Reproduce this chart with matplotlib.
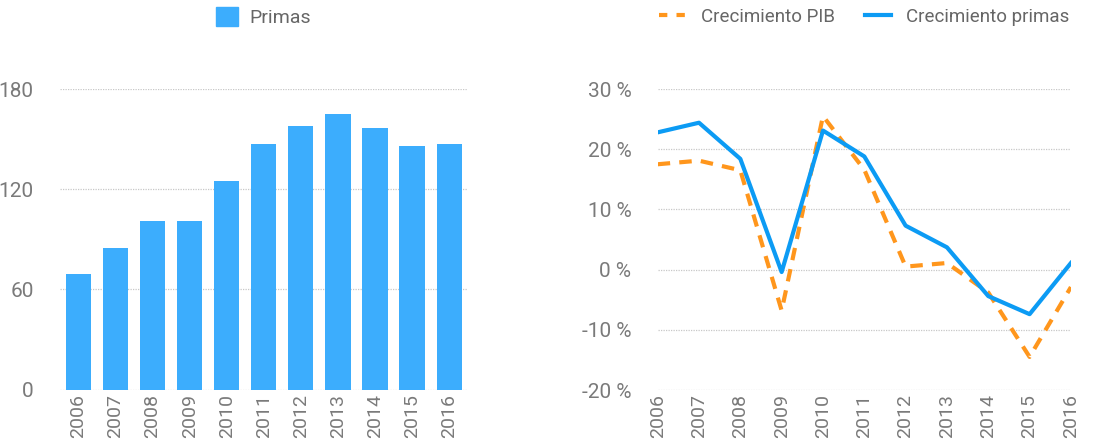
import matplotlib
matplotlib.use('Agg')
import matplotlib.pyplot as plt
from matplotlib.lines import Line2D
from matplotlib.patches import Patch

plt.rcParams['font.family'] = ['Roboto', 'DejaVu Sans']

years = ['2006', '2007', '2008', '2009', '2010', '2011', '2012', '2013', '2014', '2015', '2016']
primas = [69, 85, 101, 101, 125, 147, 158, 165, 156.5, 146, 147]
crec_pib = [17.5, 18.1, 16.5, -6.8, 25.5, 16.6, 0.5, 1.1, -3.8, -14.5, -2.9]
crec_primas = [22.8, 24.4, 18.4, -0.4, 23.1, 18.8, 7.3, 3.7, -4.4, -7.4, 1.1]

bar_color = '#3CADFD'
line_blue = '#0C9BF4'
line_orange = '#FF961C'
text_gray = '#7a7a7a'
grid_gray = '#c8c8c8'

fig = plt.figure(figsize=(11.02, 4.4), dpi=100)
ax1 = fig.add_axes([0.0544, 0.1143, 0.370, 0.6834])
ax2 = fig.add_axes([0.5968, 0.1136, 0.375, 0.6841])

x = range(len(years))

# left: bars
ax1.bar(x, primas, width=0.68, color=bar_color, zorder=2)
ax1.set_xlim(-0.5, len(years) - 0.5)
ax1.set_ylim(0, 180)
ax1.set_yticks([0, 60, 120, 180])

# right: growth lines
ax2.plot(x, crec_pib, color=line_orange, lw=3, ls=(0, (3, 2.2)), zorder=2)
ax2.plot(x, crec_primas, color=line_blue, lw=3, zorder=3)
ax2.set_xlim(0, len(years) - 1)
ax2.set_ylim(-20, 30)
ax2.set_yticks([-20, -10, 0, 10, 20, 30])
ax2.set_yticklabels([f'{v} %' for v in [-20, -10, 0, 10, 20, 30]])

for ax in (ax1, ax2):
    ax.set_xticks(list(x))
    ax.set_xticklabels(years, rotation=90)
    for s in ax.spines.values():
        s.set_visible(False)
    ax.grid(axis='y', color=grid_gray, ls=(0, (1, 1)), lw=0.9, zorder=0)
    ax.tick_params(axis='y', length=0, pad=19, labelsize=15, labelcolor=text_gray)
    ax.tick_params(axis='x', length=0, pad=3, labelsize=14, labelcolor=text_gray)
    ax.set_axisbelow(True)

ax1.legend(handles=[Patch(color=bar_color, label='Primas')],
           loc='center', bbox_to_anchor=(0.5, 1.24), frameon=False,
           fontsize=14, labelcolor='#666666', handlelength=1.1, handleheight=1.1,
           handletextpad=0.6)

ax2.legend(handles=[Line2D([], [], color=line_orange, lw=3, ls=(0, (2, 2.2)), label='Crecimiento PIB'),
                    Line2D([], [], color=line_blue, lw=3, label='Crecimiento primas')],
           loc='center', bbox_to_anchor=(0.5, 1.24), ncol=2, frameon=False,
           fontsize=13.5, labelcolor='#666666', handlelength=1.4, handletextpad=0.8,
           columnspacing=1.6)

fig.savefig('out.png', dpi=100)
